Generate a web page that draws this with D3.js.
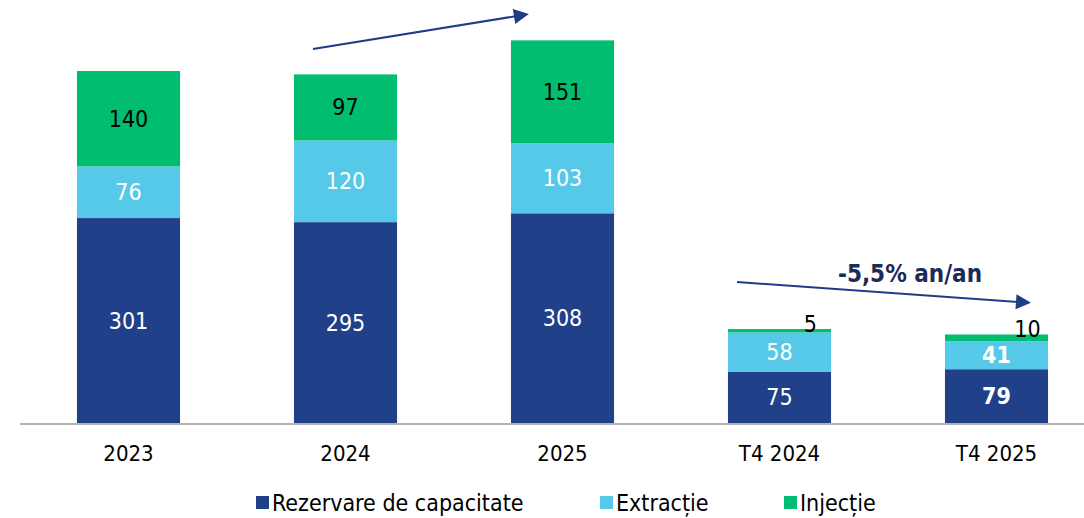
<!DOCTYPE html>
<html>
<head>
<meta charset="utf-8">
<script src="https://cdn.jsdelivr.net/npm/d3@7"></script>
<style>
    body { margin: 0; background: #fff; }
    svg { display: block; }
    text { font-family: Tahoma, "DejaVu Sans Condensed", "Liberation Sans Narrow", "Noto Sans", sans-serif; }
</style>
</head>
<body>
<svg id="chart" width="1084" height="518"></svg>
<script>
// chart data
var categories = ["2023", "2024", "2025", "T4 2024", "T4 2025"];
var rezervare = [301, 295, 308, 75, 79];
var extractie = [76, 120, 103, 58, 41];
var injectie = [140, 97, 151, 5, 10];
var seriesNames = ["Rezervare de capacitate", "Extracție", "Injecție"];
var seriesColors = ["#21408a", "#56c9e9", "#00bd70"];
var boldLabels = ["T4 2025"];

var svg = d3.select("#chart");
var baseY = 423;

var x = d3.scaleBand()
    .domain(categories)
    .range([20, 1105])
    .paddingInner(0.525)
    .paddingOuter(0.2625);

var y = d3.scaleLinear()
    .domain([0, 517])
    .range([baseY, 71]);

var rows = categories.map(function (c, i) {
    return { cat: c, r: rezervare[i], e: extractie[i], j: injectie[i] };
});
var stack = d3.stack().keys(["r", "e", "j"]);
var layers = stack(rows);

var g = svg.append("g");

layers.forEach(function (layer, li) {
    var lg = g.append("g");
    lg.selectAll("rect")
        .data(layer)
        .enter()
        .append("rect")
        .attr("x", function (d) { return x(d.data.cat); })
        .attr("y", function (d) { return y(d[1]); })
        .attr("width", x.bandwidth())
        .attr("height", function (d) { return y(d[0]) - y(d[1]); })
        .attr("fill", seriesColors[li]);

    lg.selectAll("text")
        .data(layer)
        .enter()
        .append("text")
        .attr("x", function (d) {
            var small = (y(d[0]) - y(d[1])) < 15;
            return small ? x(d.data.cat) + x.bandwidth() * 0.8 : x(d.data.cat) + x.bandwidth() / 2;
        })
        .attr("y", function (d) {
            var small = (y(d[0]) - y(d[1])) < 15;
            return small ? y(d[1]) + 3 : (y(d[0]) + y(d[1])) / 2 + 8;
        })
        .attr("text-anchor", "middle")
        .attr("font-size", 23)
        .attr("font-weight", function (d) { return boldLabels.indexOf(d.data.cat) >= 0 && li < 2 ? "bold" : "normal"; })
        .attr("fill", li === 2 ? "#000" : "#fff")
        .text(function (d) { return d[1] - d[0]; });
});

// axis
var axis = d3.axisBottom(x).tickSize(0).tickPadding(21);
var ax = svg.append("g")
    .attr("transform", "translate(0," + (baseY + 1) + ")")
    .call(axis);
ax.select(".domain").remove();
ax.selectAll("text")
    .attr("font-size", 22)
    .attr("font-family", null)
    .attr("fill", "#000");
svg.append("line")
    .attr("x1", 20).attr("x2", 1084)
    .attr("y1", baseY + 1).attr("y2", baseY + 1)
    .attr("stroke", "#b3b3b3")
    .attr("stroke-width", 2);

// arrows
var defs = svg.append("defs");
defs.append("marker")
    .attr("id", "arrow")
    .attr("viewBox", "0 0 10 10")
    .attr("refX", 2).attr("refY", 5)
    .attr("markerWidth", 8.5).attr("markerHeight", 7.5)
    .attr("orient", "auto")
    .attr("markerUnits", "strokeWidth")
    .append("path")
    .attr("d", "M0,0 L10,5 L0,10 Z")
    .attr("fill", "#1f3c88");

svg.append("line")
    .attr("x1", 313).attr("y1", 49)
    .attr("x2", 517).attr("y2", 16)
    .attr("stroke", "#1f3c88")
    .attr("stroke-width", 2)
    .attr("marker-end", "url(#arrow)");

svg.append("line")
    .attr("x1", 737).attr("y1", 282)
    .attr("x2", 1019).attr("y2", 302)
    .attr("stroke", "#1f3c88")
    .attr("stroke-width", 2)
    .attr("marker-end", "url(#arrow)");

svg.append("text")
    .attr("x", 910).attr("y", 282)
    .attr("text-anchor", "middle")
    .attr("font-size", 24)
    .attr("font-weight", "bold")
    .attr("fill", "#1b2a57")
    .text("-5,5% an/an");

// legend
var legend = svg.append("g").attr("transform", "translate(0,511)");
var legendX = [256, 600, 784];
seriesNames.forEach(function (name, i) {
    legend.append("rect")
        .attr("x", legendX[i]).attr("y", -15)
        .attr("width", 13).attr("height", 13)
        .attr("fill", seriesColors[i]);
    legend.append("text")
        .attr("x", legendX[i] + 16).attr("y", 0)
        .attr("font-size", 23)
        .attr("fill", "#000")
        .text(name);
});
</script>
</body>
</html>
